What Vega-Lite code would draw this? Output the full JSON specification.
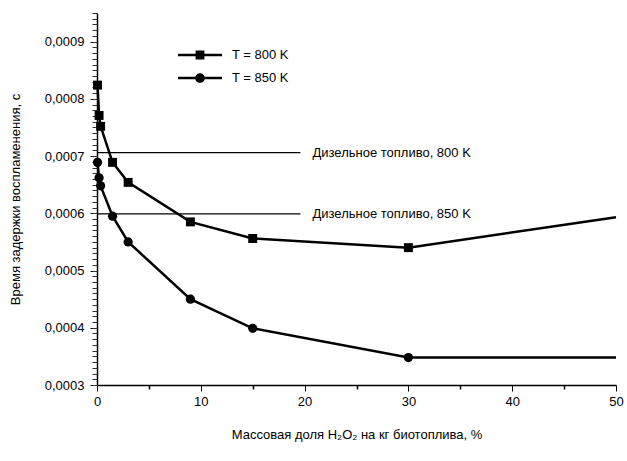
{
  "$schema": "https://vega.github.io/schema/vega-lite/v6.json",
  "width": 519,
  "height": 372,
  "autosize": {"type": "none"},
  "padding": {"left": 97, "top": 13, "right": 11, "bottom": 76},
  "background": "white",
  "config": {
    "view": {"stroke": null},
    "font": "Liberation Sans",
    "axis": {
      "domainColor": "black",
      "domainWidth": 1.5,
      "tickColor": "black",
      "tickWidth": 1,
      "labelColor": "black",
      "labelFontSize": 13,
      "titleColor": "black",
      "titleFontSize": 13,
      "titleFontWeight": "normal",
      "grid": false,
      "labelOverlap": false,
      "labelBound": false,
      "labelFlush": false
    },
    "legend": {
      "labelFontSize": 13,
      "labelColor": "black",
      "labelOffset": 10,
      "symbolSize": 1936,
      "symbolStrokeWidth": 0,
      "symbolFillColor": "black",
      "symbolOpacity": 1,
      "padding": 0
    }
  },
  "resolve": {"axis": {"x": "independent", "y": "independent"}},
  "datasets": {
    "series": [
      {"T": "800", "x": 0.05, "y": 0.000824},
      {"T": "800", "x": 0.2, "y": 0.000771},
      {"T": "800", "x": 0.35, "y": 0.000752},
      {"T": "800", "x": 1.5, "y": 0.000689},
      {"T": "800", "x": 3, "y": 0.000654},
      {"T": "800", "x": 9, "y": 0.000585},
      {"T": "800", "x": 15, "y": 0.000556},
      {"T": "800", "x": 30, "y": 0.00054},
      {"T": "800", "x": 50, "y": 0.000593},
      {"T": "850", "x": 0.05, "y": 0.000689},
      {"T": "850", "x": 0.2, "y": 0.000662},
      {"T": "850", "x": 0.35, "y": 0.000648},
      {"T": "850", "x": 1.5, "y": 0.000595},
      {"T": "850", "x": 3, "y": 0.00055},
      {"T": "850", "x": 9, "y": 0.00045},
      {"T": "850", "x": 15, "y": 0.000399},
      {"T": "850", "x": 30, "y": 0.000348},
      {"T": "850", "x": 50, "y": 0.000348}
    ],
    "refs": [
      {"label": "Дизельное топливо, 800 K", "x": 0, "x2": 19.6, "y": 0.000706},
      {"label": "Дизельное топливо, 850 K", "x": 0, "x2": 19.6, "y": 0.000599}
    ]
  },
  "layer": [
    {
      "data": {"name": "series"},
      "mark": {"type": "line", "color": "black", "strokeWidth": 2.5},
      "encoding": {
        "x": {
          "field": "x", "type": "quantitative",
          "title": "Массовая доля H₂O₂ на кг биотоплива, %",
          "scale": {"domain": [0, 50], "nice": false, "zero": false},
          "axis": {
            "values": [0, 10, 20, 30, 40, 50],
            "format": "d",
            "tickSize": 6,
            "labelPadding": 4,
            "titlePadding": 20
          }
        },
        "y": {
          "field": "y", "type": "quantitative",
          "title": "Время задержки воспламенения, с",
          "scale": {"domain": [0.0003, 0.00095], "nice": false, "zero": false},
          "axis": {
            "values": [0.0003, 0.0004, 0.0005, 0.0006, 0.0007, 0.0008, 0.0009],
            "labelExpr": "replace(format(datum.value, '.4f'), '.', ',')",
            "tickSize": 7,
            "labelPadding": 6,
            "titlePadding": 22
          }
        },
        "detail": {"field": "T", "type": "nominal"}
      }
    },
    {
      "data": {"name": "refs"},
      "mark": {"type": "rule", "color": "black", "strokeWidth": 1.3},
      "encoding": {
        "x": {
          "field": "x", "type": "quantitative",
          "axis": {
            "orient": "bottom",
            "values": [5, 15, 25, 35, 45],
            "tickCount": 100,
            "tickSize": 4,
            "tickWidth": 1.5,
            "labels": false,
            "domain": false,
            "title": null
          }
        },
        "x2": {"field": "x2"},
        "y": {
          "field": "y", "type": "quantitative",
          "axis": {
            "orient": "left",
            "values": [0.0003,0.00031,0.00032,0.00033,0.00034,0.00035,0.00036,0.00037,0.00038,0.00039,0.0004,0.00041,0.00042,0.00043,0.00044,0.00045,0.00046,0.00047,0.00048,0.00049,0.0005,0.00051,0.00052,0.00053,0.00054,0.00055,0.00056,0.00057,0.00058,0.00059,0.0006,0.00061,0.00062,0.00063,0.00064,0.00065,0.00066,0.00067,0.00068,0.00069,0.0007,0.00071,0.00072,0.00073,0.00074,0.00075,0.00076,0.00077,0.00078,0.00079,0.0008,0.00081,0.00082,0.00083,0.00084,0.00085,0.00086,0.00087,0.00088,0.00089,0.0009,0.00091,0.00092,0.00093,0.00094,0.00095],
            "tickCount": 1000,
            "tickSize": 5,
            "tickColor": "#333333",
            "labels": false,
            "domain": false,
            "title": null
          }
        }
      }
    },
    {
      "data": {"name": "series"},
      "transform": [{"filter": "datum.T == '800' && datum.x < 50"}],
      "mark": {"type": "point", "filled": true, "shape": "square", "size": 80, "opacity": 1},
      "encoding": {
        "x": {"field": "x", "type": "quantitative", "axis": null},
        "y": {"field": "y", "type": "quantitative", "axis": null},
        "color": {
          "field": "T", "type": "nominal",
          "scale": {"domain": ["800"], "range": ["black"]},
          "legend": {
            "orient": "none",
            "legendX": 81,
            "legendY": 20,
            "title": null,
            "labelExpr": "'T = ' + datum.label + ' K'",
            "symbolType": "M-1,-0.055H1V0.055H-1ZM-0.2,-0.2H0.2V0.2H-0.2Z"
          }
        }
      }
    },
    {
      "data": {"name": "series"},
      "transform": [{"filter": "datum.T == '850' && datum.x < 50"}],
      "mark": {"type": "point", "filled": true, "shape": "circle", "size": 85, "opacity": 1},
      "encoding": {
        "x": {"field": "x", "type": "quantitative", "axis": null},
        "y": {"field": "y", "type": "quantitative", "axis": null},
        "fill": {
          "field": "T", "type": "nominal",
          "scale": {"domain": ["850"], "range": ["black"]},
          "legend": {
            "orient": "none",
            "legendX": 81,
            "legendY": 43,
            "title": null,
            "labelExpr": "'T = ' + datum.label + ' K'",
            "symbolType": "M-1,-0.055H1V0.055H-1ZM0.22,0A0.22,0.22,0,1,1,-0.22,0A0.22,0.22,0,1,1,0.22,0Z"
          }
        }
      }
    },
    {
      "data": {"name": "refs"},
      "mark": {"type": "text", "align": "left", "baseline": "middle", "dx": 12, "fontSize": 13, "color": "black"},
      "encoding": {
        "x": {"field": "x2", "type": "quantitative", "axis": null},
        "y": {"field": "y", "type": "quantitative", "axis": null},
        "text": {"field": "label"}
      }
    }
  ]
}
